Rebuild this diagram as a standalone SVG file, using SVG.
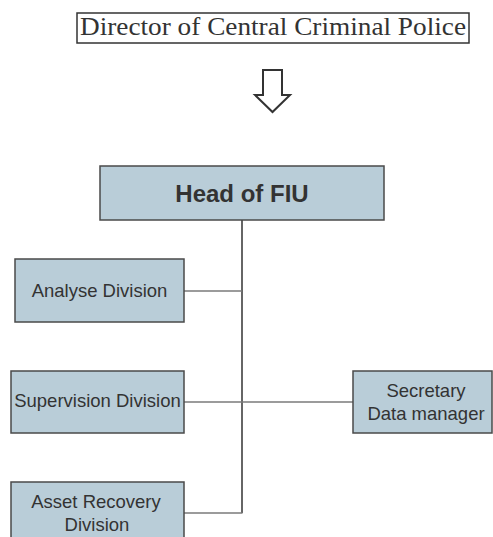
<svg xmlns="http://www.w3.org/2000/svg" width="493" height="537" viewBox="0 0 493 537">
<style>
.box{fill:#b9cdd8;stroke:#4a4a4a;stroke-width:1.5}
.lbl{font-family:"Liberation Sans",Arial,sans-serif;font-size:18.5px;fill:#333;text-anchor:middle}
.hz{stroke:#7a7a7a;stroke-width:1.6;fill:none}
.vt{stroke:#333;stroke-width:1.5;fill:none}
</style>
<rect width="493" height="537" fill="#fff"/>
<g id="director">
<rect x="77" y="13" width="392" height="30" fill="#fff" stroke="#333" stroke-width="1.5"/>
<text x="273" y="35" font-family="'Liberation Serif','Times New Roman',serif" font-size="25" fill="#333" text-anchor="middle" textLength="386" lengthAdjust="spacingAndGlyphs">Director of Central Criminal Police</text>
</g>
<g id="arrow">
<polygon points="263,70 282,70 282,95 290,95 272.5,112 255,95 263,95" fill="#fff" stroke="#333" stroke-width="2" stroke-linejoin="miter"/>
</g>
<g id="connectors">
<line class="vt" x1="242" y1="220" x2="242" y2="513"/>
<line class="hz" x1="184" y1="291" x2="242" y2="291"/>
<line class="hz" x1="184" y1="402" x2="353" y2="402"/>
<line class="hz" x1="184" y1="513" x2="242.5" y2="513"/>
</g>
<g id="head">
<rect class="box" x="100" y="166" width="284" height="54" stroke="#333"/>
<text x="242" y="202" font-family="'Liberation Sans',Arial,sans-serif" font-weight="bold" font-size="24" fill="#333" text-anchor="middle">Head of FIU</text>
</g>
<g id="analyse">
<rect class="box" x="15" y="259" width="169" height="63"/>
<text class="lbl" x="99.5" y="297">Analyse Division</text>
</g>
<g id="supervision">
<rect class="box" x="11" y="371" width="173" height="62"/>
<text class="lbl" x="97.5" y="407">Supervision Division</text>
</g>
<g id="secretary">
<rect class="box" x="353" y="371" width="139" height="62"/>
<text class="lbl" x="426" y="397">Secretary</text>
<text class="lbl" x="426" y="420">Data manager</text>
</g>
<g id="asset">
<rect class="box" x="11" y="482" width="173" height="70"/>
<text class="lbl" x="96" y="508">Asset Recovery</text>
<text class="lbl" x="97" y="531">Division</text>
</g>
</svg>
